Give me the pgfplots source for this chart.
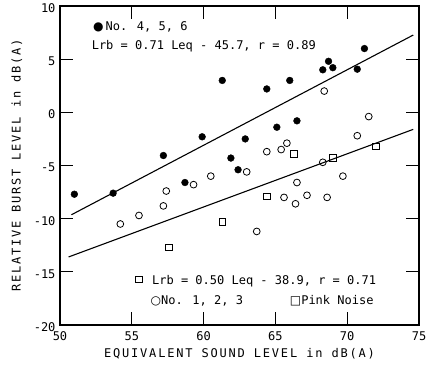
\documentclass[border=0pt]{standalone}
\usepackage{pgfplots}
\pgfplotsset{compat=1.18}
\usepackage{fontspec}
\setmainfont{DejaVu Sans Mono}
\newfontfamily\symf{DejaVu Sans}
\begin{document}
\begin{tikzpicture}
\begin{axis}[
 width=359pt, height=319pt, scale only axis,
 xmin=50, xmax=75, ymin=-20, ymax=10,
 xtick={50,55,...,75}, ytick={-20,-15,...,10},
 tick align=inside, major tick length=13pt,
 tick style={line width=0.9pt, black},
 axis line style={line width=1.1pt},
 ticklabel style={font=\fontsize{12}{12}\selectfont},
 /pgf/number format/assume math mode=true,
 xlabel={EQUIVALENT SOUND LEVEL in dB(A)},
 ylabel={RELATIVE BURST LEVEL in dB(A)},
 label style={font=\fontsize{12}{12}\selectfont\addfontfeatures{LetterSpace=15}},
 xlabel style={at={(axis description cs:0.5,-0.091)}, anchor=center},
 ylabel style={at={(axis description cs:-0.12,0.5)}, anchor=center},
 yticklabel style={xshift=-1pt, yshift=-2pt},
 xticklabel style={yshift=-3pt},
 clip=false,
]
% No. 4, 5, 6 (filled circles)
\addplot[only marks, mark=*, mark size=3.4pt, black] coordinates {
(51.0,-7.7) (53.7,-7.6) (58.7,-6.6) (57.2,-4.06) (59.9,-2.3) (61.3,3.0)
(61.9,-4.3) (62.4,-5.4) (62.9,-2.5) (64.4,2.2) (65.1,-1.4) (66.0,3.0)
(66.5,-0.8) (68.3,4.0) (68.7,4.8) (69.0,4.2) (70.7,4.06) (71.2,6.0)
};
% No. 1, 2, 3 (open circles)
\addplot[only marks, mark=o, mark size=3.4pt, black, mark options={line width=0.8pt}] coordinates {
(54.2,-10.5) (55.5,-9.7) (57.2,-8.8) (57.4,-7.4) (59.3,-6.8) (60.5,-6.0)
(63.0,-5.6) (64.4,-3.7) (65.4,-3.5) (65.8,-2.9) (68.4,2.0) (68.3,-4.7)
(70.7,-2.2) (71.5,-0.4) (69.7,-6.0) (66.5,-6.6) (65.6,-8.0) (66.4,-8.6)
(67.2,-7.8) (68.6,-8.0) (63.7,-11.2)
};
% Pink noise (open squares)
\addplot[only marks, mark=square, mark size=3.3pt, black, mark options={line width=0.8pt}] coordinates {
(66.3,-3.9) (69.0,-4.3) (72.0,-3.2) (64.4,-7.9) (61.3,-10.3) (57.6,-12.7) (55.5,-15.7)
};
% regression lines
\addplot[black, line width=1.1pt] coordinates {(50.8,-9.63) (74.6,7.27)};
\addplot[black, line width=1.1pt] coordinates {(50.6,-13.6) (74.6,-1.6)};
\node[anchor=west, font=\fontsize{12}{12}\selectfont, inner sep=0pt] at (axis cs:52.3,8.0) {{\symf\fontsize{12}{12}\selectfont ●}\hspace{2pt}No. 4, 5, 6};
\node[anchor=west, font=\fontsize{12}{12}\selectfont, inner sep=0pt] at (axis cs:52.2,6.2) {Lrb = 0.71 Leq - 45.7,  r = 0.89};
\node[anchor=west, font=\fontsize{12}{12}\selectfont, inner sep=0pt] at (axis cs:56.4,-15.9) {Lrb = 0.50 Leq - 38.9,  r = 0.71};
\node[anchor=west, font=\fontsize{12}{12}\selectfont, inner sep=0pt] at (axis cs:56.3,-17.7) {{\symf\fontsize{12}{12}\selectfont ○}No. 1, 2, 3};
\node[anchor=west, font=\fontsize{12}{12}\selectfont, inner sep=0pt] at (axis cs:66.0,-17.7) {{\symf\fontsize{12}{12}\selectfont □}Pink Noise};
\coordinate (sw) at (rel axis cs:0,0);
\coordinate (ne) at (rel axis cs:1,1);
\end{axis}
\pgfresetboundingbox
\path[use as bounding box] ([xshift=-60pt,yshift=-42pt]sw) rectangle ([xshift=11pt,yshift=6pt]ne);
\end{tikzpicture}
\end{document}
